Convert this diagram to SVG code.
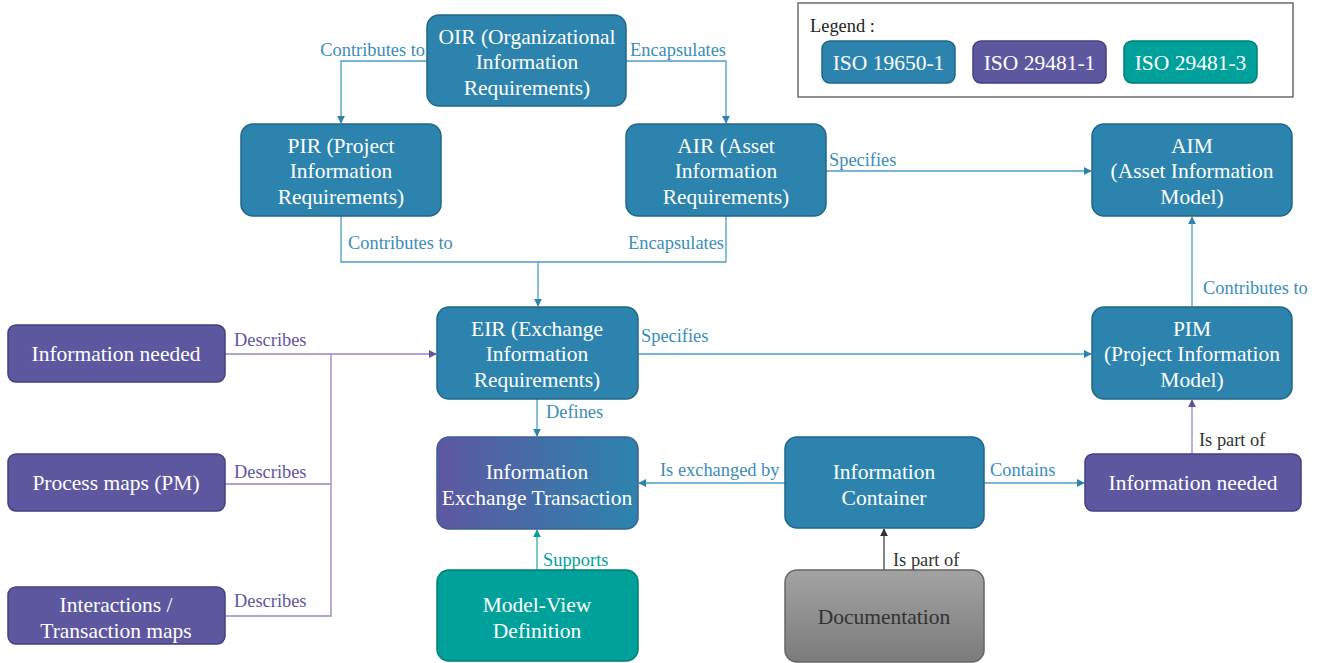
<svg xmlns="http://www.w3.org/2000/svg" width="1320" height="663" viewBox="0 0 1320 663">
<style>
.n{stroke-width:1.5}
.b{fill:#2C84AE;stroke:#1F6688}
.p{fill:#5D57A0;stroke:#443F80}
.t{fill:#00A19A;stroke:#007E78}
.nt{font-family:'Liberation Serif',serif;font-size:21.5px;fill:#fff;text-anchor:middle}
.lb{font-family:'Liberation Serif',serif;font-size:18.4px}
.lbb{fill:#3A8DBA}
.lbp{fill:#5D57A0}
.lbt{fill:#00A19A}
.lbk{fill:#333}
.cb{fill:none;stroke:#4C9CC6;stroke-width:1.3}
.cp{fill:none;stroke:#8F88C6;stroke-width:1.3}
.ct{fill:none;stroke:#2DB0A8;stroke-width:1.3}
.ck{fill:none;stroke:#444;stroke-width:1.3}
</style>
<defs>
<marker id="ab" viewBox="0 0 10 10" refX="9" refY="5" markerWidth="8" markerHeight="8" markerUnits="userSpaceOnUse" orient="auto"><path d="M0,0L10,5L0,10z" fill="#2C84AE"/></marker>
<marker id="ap" viewBox="0 0 10 10" refX="9" refY="5" markerWidth="8" markerHeight="8" markerUnits="userSpaceOnUse" orient="auto"><path d="M0,0L10,5L0,10z" fill="#5D57A0"/></marker>
<marker id="at" viewBox="0 0 10 10" refX="9" refY="5" markerWidth="8" markerHeight="8" markerUnits="userSpaceOnUse" orient="auto"><path d="M0,0L10,5L0,10z" fill="#00A19A"/></marker>
<marker id="ak" viewBox="0 0 10 10" refX="9" refY="5" markerWidth="8" markerHeight="8" markerUnits="userSpaceOnUse" orient="auto"><path d="M0,0L10,5L0,10z" fill="#333"/></marker>
<linearGradient id="giet" x1="0" y1="0" x2="1" y2="0"><stop offset="0" stop-color="#5D57A0"/><stop offset="1" stop-color="#2C84AE"/></linearGradient>
<linearGradient id="gdoc" x1="0" y1="0" x2="0" y2="1"><stop offset="0" stop-color="#A3A3A3"/><stop offset="1" stop-color="#7B7B7B"/></linearGradient>
</defs>
<rect width="1320" height="663" fill="#fff"/>

<g id="legend">
<rect x="798" y="3" width="495" height="94" fill="#fff" stroke="#555" stroke-width="1.3"/>
<text x="810" y="32" font-family="Liberation Serif, serif" font-size="18.4" fill="#222">Legend :</text>
<rect class="n b" x="822" y="41" width="133" height="42" rx="8"/>
<text class="nt" x="888.5" y="69.5">ISO 19650-1</text>
<rect class="n p" x="973" y="41" width="133" height="42" rx="8"/>
<text class="nt" x="1039.5" y="69.5">ISO 29481-1</text>
<rect class="n t" x="1124" y="41" width="133" height="42" rx="8"/>
<text class="nt" x="1190.5" y="69.5">ISO 29481-3</text>
</g>

<g id="connectors">
<path class="cb" d="M427,61H341V123" marker-end="url(#ab)"/>
<text class="lb lbb" x="425" y="56" text-anchor="end">Contributes to</text>
<path class="cb" d="M626,61H726V123" marker-end="url(#ab)"/>
<text class="lb lbb" x="630" y="56">Encapsulates</text>
<path class="cb" d="M341,216V262H726V216"/>
<path class="cb" d="M538,262V306" marker-end="url(#ab)"/>
<text class="lb lbb" x="348" y="249">Contributes to</text>
<text class="lb lbb" x="628" y="249">Encapsulates</text>
<path class="cb" d="M826,171H1091" marker-end="url(#ab)"/>
<text class="lb lbb" x="829" y="166">Specifies</text>
<path class="cb" d="M638,354H1091" marker-end="url(#ab)"/>
<text class="lb lbb" x="641" y="342">Specifies</text>
<path class="cb" d="M1192,307V217" marker-end="url(#ab)"/>
<text class="lb lbb" x="1203" y="294">Contributes to</text>
<path class="cp" d="M225,354H436" marker-end="url(#ap)"/>
<path class="cp" d="M225,484H331M225,616H331V354"/>
<text class="lb lbp" x="234" y="346">Describes</text>
<text class="lb lbp" x="234" y="478">Describes</text>
<text class="lb lbp" x="234" y="607">Describes</text>
<path class="cb" d="M537,399V436" marker-end="url(#ab)"/>
<text class="lb lbb" x="546" y="418">Defines</text>
<path class="ct" d="M537,570V530" marker-end="url(#at)"/>
<text class="lb lbt" x="543" y="566">Supports</text>
<path class="cb" d="M785,483H639" marker-end="url(#ab)"/>
<text class="lb lbb" x="660" y="476">Is exchanged by</text>
<path class="cb" d="M984,483H1084" marker-end="url(#ab)"/>
<text class="lb lbb" x="990" y="476">Contains</text>
<path class="cp" d="M1192,454V400" marker-end="url(#ap)"/>
<text class="lb lbk" x="1199" y="446">Is part of</text>
<path class="ck" d="M884,570V529" marker-end="url(#ak)"/>
<text class="lb lbk" x="893" y="566">Is part of</text>
</g>

<g id="oir"><rect class="n b" x="427" y="15" width="199" height="91" rx="12"/>
<text class="nt" x="527" y="44">OIR (Organizational</text><text class="nt" x="527" y="69">Information</text><text class="nt" x="527" y="95">Requirements)</text></g>
<g id="pir"><rect class="n b" x="241" y="124" width="200" height="92" rx="12"/>
<text class="nt" x="341" y="153">PIR (Project</text><text class="nt" x="341" y="178">Information</text><text class="nt" x="341" y="204">Requirements)</text></g>
<g id="air"><rect class="n b" x="626" y="124" width="200" height="92" rx="12"/>
<text class="nt" x="726" y="153">AIR (Asset</text><text class="nt" x="726" y="178">Information</text><text class="nt" x="726" y="204">Requirements)</text></g>
<g id="aim"><rect class="n b" x="1092" y="124" width="200" height="92" rx="12"/>
<text class="nt" x="1192" y="153">AIM</text><text class="nt" x="1192" y="178">(Asset Information</text><text class="nt" x="1192" y="204">Model)</text></g>
<g id="eir"><rect class="n b" x="437" y="307" width="201" height="92" rx="12"/>
<text class="nt" x="537" y="336">EIR (Exchange</text><text class="nt" x="537" y="361">Information</text><text class="nt" x="537" y="387">Requirements)</text></g>
<g id="pim"><rect class="n b" x="1092" y="307" width="200" height="92" rx="12"/>
<text class="nt" x="1192" y="336">PIM</text><text class="nt" x="1192" y="361">(Project Information</text><text class="nt" x="1192" y="387">Model)</text></g>
<g id="info-needed-left"><rect class="n p" x="8" y="325" width="217" height="57" rx="8"/>
<text class="nt" x="116" y="361">Information needed</text></g>
<g id="process-maps"><rect class="n p" x="8" y="454" width="217" height="57" rx="8"/>
<text class="nt" x="116" y="490">Process maps (PM)</text></g>
<g id="interactions"><rect class="n p" x="8" y="587" width="217" height="57" rx="8"/>
<text class="nt" x="116" y="612">Interactions /</text><text class="nt" x="116" y="638">Transaction maps</text></g>
<g id="iet"><rect class="n" x="437" y="437" width="201" height="92" rx="12" fill="url(#giet)" stroke="#3F5F94"/>
<text class="nt" x="537" y="479">Information</text><text class="nt" x="537" y="505">Exchange Transaction</text></g>
<g id="mvd"><rect class="n t" x="437" y="570" width="201" height="91" rx="12"/>
<text class="nt" x="537" y="612">Model-View</text><text class="nt" x="537" y="638">Definition</text></g>
<g id="info-container"><rect class="n b" x="785" y="437" width="199" height="91" rx="12"/>
<text class="nt" x="884" y="479">Information</text><text class="nt" x="884" y="505">Container</text></g>
<g id="info-needed-right"><rect class="n p" x="1085" y="454" width="216" height="57" rx="8"/>
<text class="nt" x="1193" y="490">Information needed</text></g>
<g id="documentation"><rect class="n" x="785" y="570" width="199" height="92" rx="12" fill="url(#gdoc)" stroke="#666"/>
<text class="nt" x="884" y="624" style="fill:#333">Documentation</text></g>
</svg>
